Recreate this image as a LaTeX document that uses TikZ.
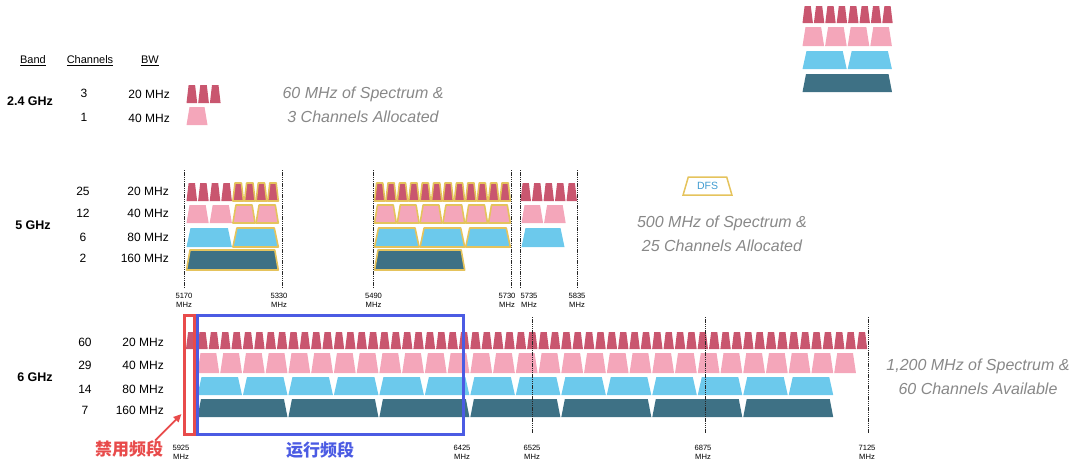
\documentclass[tikz,border=0pt]{standalone}
\usepackage{fontspec}
\setmainfont{Liberation Sans}
\newfontfamily\cjk{Noto Sans CJK SC}
\usetikzlibrary{shapes.geometric,arrows.meta}

\definecolor{c20col}{HTML}{C9566F}
\definecolor{c40col}{HTML}{F4A6BA}
\definecolor{c80col}{HTML}{6CC9EC}
\definecolor{c160col}{HTML}{3E7185}
\definecolor{dfscol}{HTML}{E5C35C}
\definecolor{dfstext}{HTML}{3F9BD0}
\definecolor{notegray}{HTML}{888888}
\definecolor{boxred}{HTML}{E84B4B}
\definecolor{boxblue}{HTML}{4B5BE3}

% start x, pitch, count, top y, bottom y, top inset, style
\newcommand{\chrow}[7]{%
  \foreach \k in {1,...,#3}
    \path[#7] ({#1+(\k-1)*#2+0.5},#5) -- ({#1+\k*#2-0.5},#5)
      -- ({#1+\k*#2-#6},#4) -- ({#1+(\k-1)*#2+#6},#4) -- cycle;}

\begin{document}
\begin{tikzpicture}
    [x=1pt, y=-1pt,
     lbl/.style={font=\fontsize{12}{14}\selectfont, inner sep=0pt},
     head/.style={font=\fontsize{11}{13}\selectfont, inner sep=0pt},
     band/.style={font=\bfseries\fontsize{12.5}{14}\selectfont, inner sep=0pt},
     note/.style={font=\itshape\fontsize{16}{24}\selectfont, text=notegray, align=center, inner sep=0pt},
     freq/.style={font=\fontsize{7.6}{9}\selectfont, align=center, inner sep=0pt},
     tick/.style={black!85, line width=0.7pt, dash pattern=on 1.3pt off 0.9pt},
     c20/.style={fill=c20col}, c40/.style={fill=c40col},
     c80/.style={fill=c80col}, c160/.style={fill=c160col},
     dfs/.style={draw=dfscol, line width=1.6pt, line join=round},
     zone/.style={line width=3pt, inner sep=0pt, minimum height=119},
     zonelbl/.style={font=\cjk\bfseries\fontsize{17}{20}\selectfont, inner sep=0pt}]
    \useasboundingbox (0,0) rectangle (1080,474);

    % legend
    \chrow{802}{11.4}{8}{6}{23}{2.6}{c20}
    \chrow{802}{22.6}{4}{27}{46}{3.5}{c40}
    \chrow{802}{45.2}{2}{51}{69}{4.5}{c80}
    \chrow{802}{90.5}{1}{74}{92}{4}{c160}

    \node[head] (hband) at (33,61) {\underline{Band}};
    \node[head] (hchan) at (90,61) {\underline{Channels}};
    \node[head] (hbw) at (150,61) {\underline{BW}};

    % 2.4 GHz
    \node[band] (b24) at (30,101) {2.4 GHz};
    \node[lbl] (n24-1) at (84,93) {3};
    \node[lbl] (n24-2) at (84,117) {1};
    \node[lbl, anchor=east] (w24-1) at (170,94) {20 MHz};
    \node[lbl, anchor=east] (w24-2) at (170,118) {40 MHz};
    \chrow{186}{11.7}{3}{85}{103}{2.6}{c20}
    \chrow{186}{22}{1}{107}{125}{3.5}{c40}
    \node[note] (note24) at (363,105) {60 MHz of Spectrum \&\\3 Channels Allocated};

    % 5 GHz
    \node[band] (b5) at (33,225) {5 GHz};
    \foreach \n/\bw/\y [count=\i] in {25/20/191, 12/40/213, 6/80/237, 2/160/258} {
      \node[lbl] (n5-\i) at (83,\y) {\n};
      \node[lbl, anchor=east] (w5-\i) at (169,\y) {\bw{} MHz};
    }
    \chrow{186}{11.6}{4}{183}{201}{2.6}{c20}
    \chrow{232.4}{11.6}{4}{183}{201}{2.6}{c20,dfs}
    \chrow{186}{23.2}{2}{205}{223}{3.5}{c40}
    \chrow{232.4}{23.2}{2}{205}{223}{3.5}{c40,dfs}
    \chrow{186}{46.4}{1}{228}{247}{4.5}{c80}
    \chrow{232.4}{46.4}{1}{228}{247}{4.5}{c80,dfs}
    \chrow{186}{92.8}{1}{250}{270}{4}{c160,dfs}
    \chrow{374}{11.4}{12}{183}{201}{2.6}{c20,dfs}
    \chrow{374}{22.8}{6}{205}{223}{3.5}{c40,dfs}
    \chrow{374}{45.6}{3}{228}{247}{4.5}{c80,dfs}
    \chrow{374}{91.2}{1}{250}{270}{4}{c160,dfs}
    \chrow{520}{11.5}{5}{183}{201}{2.6}{c20}
    \chrow{521}{22.6}{2}{205}{223}{3.5}{c40}
    \chrow{521}{44}{1}{228}{247}{4.5}{c80}
    \foreach \x/\lx/\f in {184.5/184/5170, 282/279/5330, 373/373.5/5490,
                           511/507/5730, 520.5/529/5735, 577.5/577/5835} {
      \draw[tick] (\x,170) -- (\x,287);
      \node[freq] (f\f) at (\lx,300) {\f\\MHz};
    }
    \node[trapezium, trapezium angle=75, trapezium stretches=true, draw=dfscol,
          line width=1.5pt, minimum width=49, minimum height=18, text=dfstext,
          font=\fontsize{10.5}{12}\selectfont] (dfskey) at (707.5,186) {DFS};
    \node[note] (note5) at (722,233.5) {500 MHz of Spectrum \&\\25 Channels Allocated};

    % 6 GHz
    \node[band] (b6) at (35,377) {6 GHz};
    \foreach \n/\bw/\y [count=\i] in {60/20/342, 29/40/365, 14/80/389, 7/160/410} {
      \node[lbl] (n6-\i) at (85,\y) {\n};
      \node[lbl, anchor=east] (w6-\i) at (164,\y) {\bw{} MHz};
    }
    \chrow{185.5}{11.37}{60}{332}{349}{2.6}{c20}
    \chrow{197}{22.74}{29}{353}{373}{3.5}{c40}
    \chrow{197}{45.48}{14}{377}{395}{4.5}{c80}
    \chrow{197}{90.96}{7}{399}{417}{4}{c160}
    \foreach \x/\lx/\f in {184/181/5925, 462/462/6425, 532/532/6525,
                           705/703/6875, 868/867/7125} {
      \draw[tick] (\x,317) -- (\x,433);
      \node[freq] (f\f) at (\lx,452) {\f\\MHz};
    }
    \node[note] (note6) at (978,377) {1,200 MHz of Spectrum \&\\60 Channels Available};

    \node[zone, draw=boxred, minimum width=10] (forbidbox) at (189,374.5) {};
    \node[zone, draw=boxblue, minimum width=266] (runbox) at (330,374.5) {};
    \node[zonelbl, text=boxred] (forbid) at (129,449) {禁用频段};
    \node[zonelbl, text=boxblue] (run) at (320,450) {运行频段};
    \coordinate (forbidtip) at (181.5,414);
    \draw[boxred, line width=1.8pt, -{Triangle[length=8pt,width=7pt]}]
      ([xshift=-8pt]forbid.north east) -- (forbidtip);
\end{tikzpicture}
\end{document}
